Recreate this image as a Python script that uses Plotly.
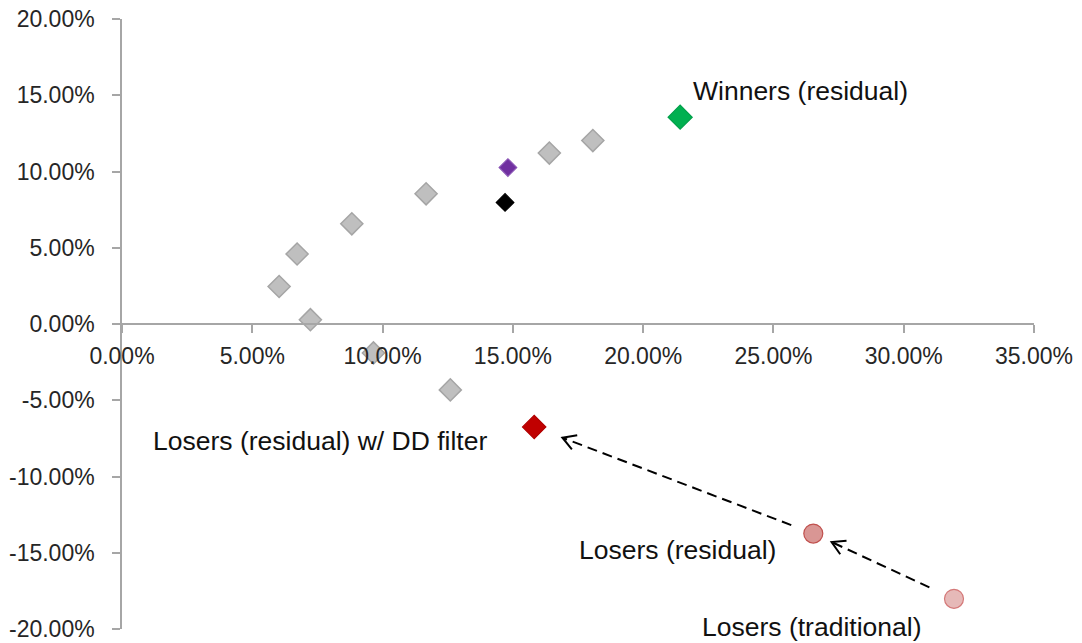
import math
import plotly.graph_objects as go

# ---- data (returns as fractions) ----
gray_x = [0.0603, 0.0672, 0.0723, 0.0882, 0.0965, 0.1167, 0.1260, 0.1640, 0.1807]
gray_y = [0.0246, 0.0459, 0.0028, 0.0657, -0.0190, 0.0854, -0.0432, 0.1121, 0.1203]
purple_pt = (0.1481, 0.1026)
black_pt = (0.1470, 0.0797)
winners_res = (0.2142, 0.1356)
losers_dd = (0.1582, -0.0675)
losers_res = (0.2653, -0.1374)
losers_trad = (0.3193, -0.1802)

label_winners = "Winners (residual)"
label_losers_dd = "Losers (residual) w/ DD filter"
label_losers_res = "Losers (residual)"
label_losers_trad = "Losers (traditional)"

x_tickvals = [0.0, 0.05, 0.10, 0.15, 0.20, 0.25, 0.30, 0.35]
x_ticktext = ["0.00%", "5.00%", "10.00%", "15.00%", "20.00%", "25.00%", "30.00%", "35.00%"]
y_tickvals = [-0.20, -0.15, -0.10, -0.05, 0.0, 0.05, 0.10, 0.15, 0.20]
y_ticktext = ["-20.00%", "-15.00%", "-10.00%", "-5.00%", "0.00%", "5.00%", "10.00%", "15.00%", "20.00%"]

FONT = "Liberation Sans"
AXIS_COLOR = "#A6A6A6"
TEXT_COLOR = "#262626"

# page has an 8px body margin; figure sized so its bottom/right reach the window edge
W, H = 1074, 635
ML, MR, MT, MB = 114, 48, 11, 14
XR = [0, 0.35]
YR = [-0.2, 0.2]
sx = (W - ML - MR) / (XR[1] - XR[0])   # px per data unit
sy = (H - MT - MB) / (YR[1] - YR[0])

fig = go.Figure()

fig.add_trace(go.Scatter(
    x=gray_x, y=gray_y, mode="markers",
    marker=dict(symbol="diamond", size=17, color="#BFBFBF",
                line=dict(color="#A5A5A5", width=1.5)),
    hoverinfo="skip", showlegend=False))

single = [
    (purple_pt, "diamond", 13.5, "#7030A0", "#8a55b5"),
    (black_pt, "diamond", 13.5, "#000000", "#000000"),
    (winners_res, "diamond", 18.5, "#00B050", "#00A04a"),
    (losers_dd, "diamond", 18, "#C00000", "#B00000"),
    (losers_res, "circle", 19, "#D99694", "#C0504D"),
    (losers_trad, "circle", 19, "#E6B9B8", "#D47878"),
]
for (px, py), sym, sz, fill, edge in single:
    fig.add_trace(go.Scatter(
        x=[px], y=[py], mode="markers",
        marker=dict(symbol=sym, size=sz, color=fill, line=dict(color=edge, width=1.2)),
        hoverinfo="skip", showlegend=False))

# ---- dashed arrows between points ----
def arrow(p0, p1, f0, f1, arm=15, half_angle=30):
    dx, dy = p1[0] - p0[0], p1[1] - p0[1]
    x0, y0 = p0[0] + f0 * dx, p0[1] + f0 * dy
    ex, ey = p1[0] - f1 * dx, p1[1] - f1 * dy
    fig.add_shape(type="line", xref="x", yref="y", x0=x0, y0=y0, x1=ex, y1=ey,
                  line=dict(color="black", width=2, dash="10px,6px"))
    # arrow head (open V) computed in pixel space
    bx, by = -dx * sx, -dy * sy
    n = math.hypot(bx, by)
    bx, by = bx / n, by / n
    pts = []
    for s in (1, -1):
        a = math.radians(half_angle) * s
        rx = bx * math.cos(a) - by * math.sin(a)
        ry = bx * math.sin(a) + by * math.cos(a)
        pts.append((ex + rx * arm / sx, ey + ry * arm / sy))
    path = (f"M {pts[0][0]},{pts[0][1]} L {ex},{ey} L {pts[1][0]},{pts[1][1]}")
    fig.add_shape(type="path", xref="x", yref="y", path=path,
                  line=dict(color="black", width=2))

arrow(losers_trad, losers_res, 0.175, 0.13)
arrow(losers_res, losers_dd, 0.079, 0.101)

# ---- labels ----
def label(pt, text, anchor, xs, ys):
    fig.add_annotation(x=pt[0], y=pt[1], xref="x", yref="y", text=text,
                       showarrow=False, xanchor=anchor, yanchor="middle",
                       xshift=xs, yshift=ys,
                       font=dict(family=FONT, size=26.5, color="#111111"))

label(winners_res, label_winners, "left", 11, 26)
label(losers_dd, label_losers_dd, "right", -45, -14)
label(losers_res, label_losers_res, "right", -35, -16)
label(losers_trad, label_losers_trad, "right", -31, -28)

tick_font = dict(family=FONT, size=23, color=TEXT_COLOR)

fig.update_layout(
    width=W, height=H,
    margin=dict(l=ML, r=MR, t=MT, b=MB),
    plot_bgcolor="white", paper_bgcolor="white",
    showlegend=False,
    xaxis=dict(range=XR, tickvals=x_tickvals, ticktext=x_ticktext,
               showgrid=False, zeroline=False, showline=True,
               linecolor=AXIS_COLOR, linewidth=1.5, automargin=False,
               ticks="outside", ticklen=8, tickwidth=1.5, tickcolor=AXIS_COLOR,
               anchor="free", position=0.5, tickfont=tick_font,
               ticklabelstandoff=4, ticklabeloverflow="allow"),
    yaxis=dict(range=YR, tickvals=y_tickvals, ticktext=y_ticktext,
               showgrid=False, zeroline=False, showline=True,
               linecolor=AXIS_COLOR, linewidth=1.5, automargin=False,
               ticks="outside", ticklen=8, tickwidth=1.5, tickcolor=AXIS_COLOR,
               tickfont=tick_font, ticklabelstandoff=13,
               ticklabeloverflow="allow"),
)

fig.write_html("out.html")
